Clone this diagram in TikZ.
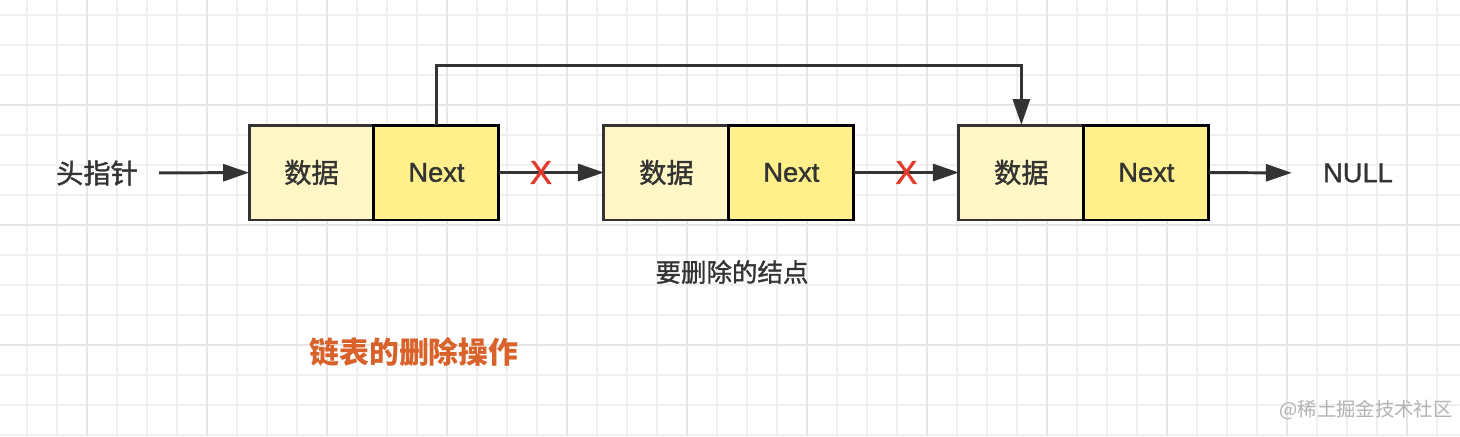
\documentclass[tikz,border=0pt]{standalone}
\usepackage{fontspec}
\setmainfont{Liberation Sans}
\newfontfamily\cjk{Noto Sans CJK SC}
\newfontfamily\cjkmed[FakeBold=1.3]{Noto Sans CJK SC}
\newfontfamily\latmed[FakeBold=1.3]{Liberation Sans}
\usetikzlibrary{arrows.meta,positioning}

\definecolor{ink}{HTML}{333333}
\definecolor{datafill}{HTML}{FFF7C6}
\definecolor{nextfill}{HTML}{FFF08C}
\definecolor{crossred}{HTML}{E23B2E}
\definecolor{titleorange}{HTML}{D9622B}
\definecolor{gridminor}{HTML}{F0F0F0}
\definecolor{gridmajor}{HTML}{E6E6E6}

\begin{document}
\begin{tikzpicture}[
  x=0.02cm, y=-0.02cm,
  cell/.style={draw=ink, line width=1.7pt, minimum width=2.5cm, minimum height=1.9cm,
               inner sep=0pt, outer sep=0pt, text=ink},
  data/.style={cell, fill=datafill, font=\cjkmed\fontsize{15.5}{18}\selectfont},
  nxt/.style ={cell, fill=nextfill, draw=black, font=\latmed\fontsize{15.5}{18}\selectfont},
  arr/.style ={draw=ink, line width=1.7pt, -{Triangle[length=0.52cm, width=0.34cm]}},
  cross/.style={text=crossred, font=\latmed\fontsize{19}{20}\selectfont, inner sep=0pt},
]
  % background grid
  \useasboundingbox (0,0) rectangle (1460,436);
  \fill[white] (0,0) rectangle (1460,436);
  \foreach \gx in {27,57,...,1460}
    \draw[gridminor, line width=0.6pt] (\gx,0) -- (\gx,436);
  \foreach \gy in {15,45,...,436}
    \draw[gridminor, line width=0.6pt] (0,\gy) -- (1460,\gy);
  \foreach \gx in {87,207,...,1460}
    \draw[gridmajor, line width=0.6pt] (\gx,0) -- (\gx,436);
  \foreach \gy in {105,225,345}
    \draw[gridmajor, line width=0.6pt] (0,\gy) -- (1460,\gy);

  % list nodes
  \node[data] (d1) at (311.5,172.5) {数据};
  \node[nxt, right=0pt of d1] (n1) {Next};
  \node[data, right=2.1cm of n1] (d2) {数据};
  \node[nxt, right=0pt of d2] (n2) {Next};
  \node[data, right=2.1cm of n2] (d3) {数据};
  \node[nxt, right=0pt of d3] (n3) {Next};

  % head pointer and NULL
  \node[text=ink, font=\cjkmed\fontsize{15.5}{18}\selectfont, inner xsep=0.42cm, inner ysep=0pt]
    (head) at (97,173) {头指针};
  \node[text=ink, font=\latmed\fontsize{15.5}{18}\selectfont, inner xsep=0.62cm, inner ysep=0pt]
    (null) at (1358,173) {NULL};

  % links
  \draw[arr] (head) -- (d1);
  \draw[arr] (n1) -- node[cross, pos=0.4] {X} (d2);
  \draw[arr] (n2) -- node[cross, pos=0.5] {X} (d3);
  \draw[arr] (n3) -- (null);
  \draw[arr] (n1.north) -- ++(0,-60) -| (d3.north);

  % captions
  \node[text=ink, font=\cjkmed\fontsize{14.5}{18}\selectfont] (del) at (732,272) {要删除的结点};
  \node[text=titleorange, font=\cjk\bfseries\fontsize{17}{20}\selectfont] (title) at (414,352) {链表的删除操作};
  \node[text=black!30, font=\cjk\fontsize{11}{13}\selectfont] (mark) at (1366,410) {@稀土掘金技术社区};
\end{tikzpicture}
\end{document}
